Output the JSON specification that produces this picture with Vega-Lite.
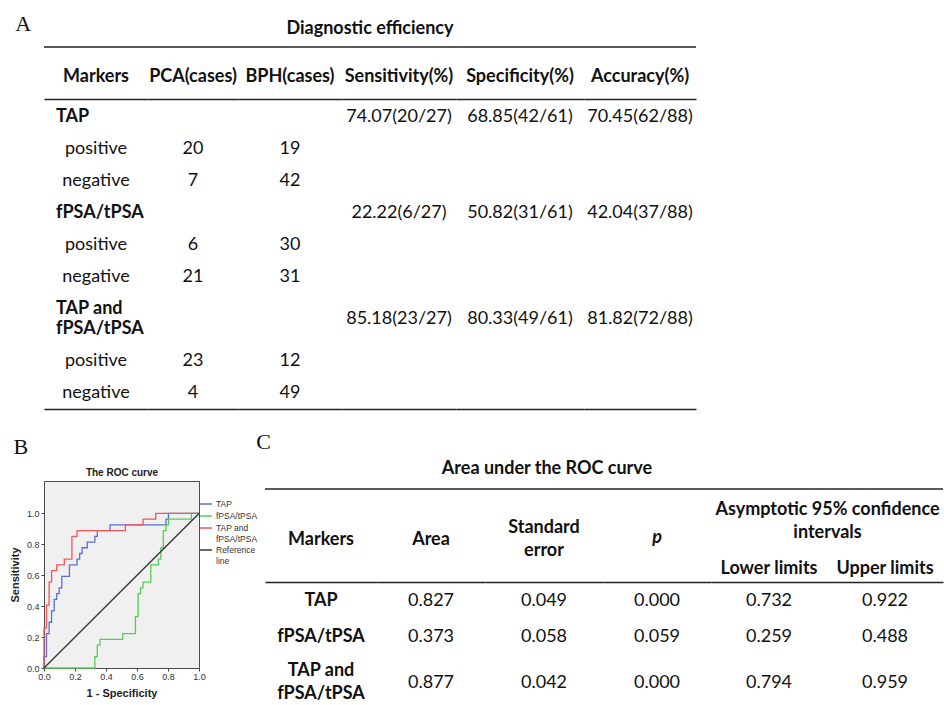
{
  "$schema": "https://vega.github.io/schema/vega-lite/v6.json",
  "padding": {"left": 8, "top": 13, "right": 0, "bottom": 0},
  "spacing": 22,
  "resolve": {"scale": {"color": "independent"}, "legend": {"color": "independent"}},
  "config": {
    "view": {"stroke": null},
    "text": {"font": "Lato", "fontSize": 18, "color": "#111"},
    "title": {"font": "Lato", "fontWeight": "bold", "fontSize": 18, "color": "#111"},
    "axis": {"domainColor": "#222"},
    "axisTop": {"ticks": false, "tickSize": 0, "grid": false, "domainColor": "#222", "domainWidth": 1.5, "labelFont": "Lato", "labelFontWeight": "bold", "labelFontSize": 18, "labelColor": "#111", "labelPadding": 14, "labelAngle": 0, "labelOverlap": false, "labelBound": false, "labelLimit": 400}
  },
  "datasets": {
    "tableA": [
      {"row": 1, "marker": "TAP", "result": "", "col": "Markers", "value": "TAP"},
      {"row": 1, "marker": "TAP", "result": "", "col": "Sensitivity(%)", "value": "74.07(20/27)"},
      {"row": 1, "marker": "TAP", "result": "", "col": "Specificity(%)", "value": "68.85(42/61)"},
      {"row": 1, "marker": "TAP", "result": "", "col": "Accuracy(%)", "value": "70.45(62/88)"},
      {"row": 2, "marker": "TAP", "result": "positive", "col": "Markers", "value": "positive"},
      {"row": 2, "marker": "TAP", "result": "positive", "col": "PCA(cases)", "value": "20"},
      {"row": 2, "marker": "TAP", "result": "positive", "col": "BPH(cases)", "value": "19"},
      {"row": 3, "marker": "TAP", "result": "negative", "col": "Markers", "value": "negative"},
      {"row": 3, "marker": "TAP", "result": "negative", "col": "PCA(cases)", "value": "7"},
      {"row": 3, "marker": "TAP", "result": "negative", "col": "BPH(cases)", "value": "42"},
      {"row": 4, "marker": "fPSA/tPSA", "result": "", "col": "Markers", "value": "fPSA/tPSA"},
      {"row": 4, "marker": "fPSA/tPSA", "result": "", "col": "Sensitivity(%)", "value": "22.22(6/27)"},
      {"row": 4, "marker": "fPSA/tPSA", "result": "", "col": "Specificity(%)", "value": "50.82(31/61)"},
      {"row": 4, "marker": "fPSA/tPSA", "result": "", "col": "Accuracy(%)", "value": "42.04(37/88)"},
      {"row": 5, "marker": "fPSA/tPSA", "result": "positive", "col": "Markers", "value": "positive"},
      {"row": 5, "marker": "fPSA/tPSA", "result": "positive", "col": "PCA(cases)", "value": "6"},
      {"row": 5, "marker": "fPSA/tPSA", "result": "positive", "col": "BPH(cases)", "value": "30"},
      {"row": 6, "marker": "fPSA/tPSA", "result": "negative", "col": "Markers", "value": "negative"},
      {"row": 6, "marker": "fPSA/tPSA", "result": "negative", "col": "PCA(cases)", "value": "21"},
      {"row": 6, "marker": "fPSA/tPSA", "result": "negative", "col": "BPH(cases)", "value": "31"},
      {"row": 7, "marker": "TAP and fPSA/tPSA", "result": "", "col": "Markers", "value": "TAP and\nfPSA/tPSA"},
      {"row": 7, "marker": "TAP and fPSA/tPSA", "result": "", "col": "Sensitivity(%)", "value": "85.18(23/27)"},
      {"row": 7, "marker": "TAP and fPSA/tPSA", "result": "", "col": "Specificity(%)", "value": "80.33(49/61)"},
      {"row": 7, "marker": "TAP and fPSA/tPSA", "result": "", "col": "Accuracy(%)", "value": "81.82(72/88)"},
      {"row": 8, "marker": "TAP and fPSA/tPSA", "result": "positive", "col": "Markers", "value": "positive"},
      {"row": 8, "marker": "TAP and fPSA/tPSA", "result": "positive", "col": "PCA(cases)", "value": "23"},
      {"row": 8, "marker": "TAP and fPSA/tPSA", "result": "positive", "col": "BPH(cases)", "value": "12"},
      {"row": 9, "marker": "TAP and fPSA/tPSA", "result": "negative", "col": "Markers", "value": "negative"},
      {"row": 9, "marker": "TAP and fPSA/tPSA", "result": "negative", "col": "PCA(cases)", "value": "4"},
      {"row": 9, "marker": "TAP and fPSA/tPSA", "result": "negative", "col": "BPH(cases)", "value": "49"}
    ],
    "tableC": [
      {"row": 1, "col": "Markers", "value": "TAP"},
      {"row": 1, "col": "Area", "value": "0.827"},
      {"row": 1, "col": "Standard error", "value": "0.049"},
      {"row": 1, "col": "p", "value": "0.000"},
      {"row": 1, "col": "Lower limits", "value": "0.732"},
      {"row": 1, "col": "Upper limits", "value": "0.922"},
      {"row": 2, "col": "Markers", "value": "fPSA/tPSA"},
      {"row": 2, "col": "Area", "value": "0.373"},
      {"row": 2, "col": "Standard error", "value": "0.058"},
      {"row": 2, "col": "p", "value": "0.059"},
      {"row": 2, "col": "Lower limits", "value": "0.259"},
      {"row": 2, "col": "Upper limits", "value": "0.488"},
      {"row": 3, "col": "Markers", "value": "TAP and\nfPSA/tPSA"},
      {"row": 3, "col": "Area", "value": "0.877"},
      {"row": 3, "col": "Standard error", "value": "0.042"},
      {"row": 3, "col": "p", "value": "0.000"},
      {"row": 3, "col": "Lower limits", "value": "0.794"},
      {"row": 3, "col": "Upper limits", "value": "0.959"}
    ],
    "tableTitles": [
      {"table": "Diagnostic efficiency"},
      {"table": "Area under the ROC curve"}
    ],
    "roc": [
      {"marker": "TAP", "ord": 1, "fpr": 0, "sens": 0},
      {"marker": "TAP", "ord": 2, "fpr": 0, "sens": 0.074},
      {"marker": "TAP", "ord": 3, "fpr": 0.016, "sens": 0.074},
      {"marker": "TAP", "ord": 4, "fpr": 0.016, "sens": 0.222},
      {"marker": "TAP", "ord": 5, "fpr": 0.033, "sens": 0.222},
      {"marker": "TAP", "ord": 6, "fpr": 0.033, "sens": 0.296},
      {"marker": "TAP", "ord": 7, "fpr": 0.049, "sens": 0.296},
      {"marker": "TAP", "ord": 8, "fpr": 0.049, "sens": 0.37},
      {"marker": "TAP", "ord": 9, "fpr": 0.066, "sens": 0.37},
      {"marker": "TAP", "ord": 10, "fpr": 0.066, "sens": 0.444},
      {"marker": "TAP", "ord": 11, "fpr": 0.082, "sens": 0.444},
      {"marker": "TAP", "ord": 12, "fpr": 0.082, "sens": 0.481},
      {"marker": "TAP", "ord": 13, "fpr": 0.098, "sens": 0.481},
      {"marker": "TAP", "ord": 14, "fpr": 0.098, "sens": 0.519},
      {"marker": "TAP", "ord": 15, "fpr": 0.115, "sens": 0.519},
      {"marker": "TAP", "ord": 16, "fpr": 0.115, "sens": 0.593},
      {"marker": "TAP", "ord": 17, "fpr": 0.164, "sens": 0.593},
      {"marker": "TAP", "ord": 18, "fpr": 0.164, "sens": 0.667},
      {"marker": "TAP", "ord": 19, "fpr": 0.213, "sens": 0.667},
      {"marker": "TAP", "ord": 20, "fpr": 0.213, "sens": 0.704},
      {"marker": "TAP", "ord": 21, "fpr": 0.23, "sens": 0.704},
      {"marker": "TAP", "ord": 22, "fpr": 0.23, "sens": 0.741},
      {"marker": "TAP", "ord": 23, "fpr": 0.246, "sens": 0.741},
      {"marker": "TAP", "ord": 24, "fpr": 0.246, "sens": 0.778},
      {"marker": "TAP", "ord": 25, "fpr": 0.279, "sens": 0.778},
      {"marker": "TAP", "ord": 26, "fpr": 0.279, "sens": 0.815},
      {"marker": "TAP", "ord": 27, "fpr": 0.328, "sens": 0.815},
      {"marker": "TAP", "ord": 28, "fpr": 0.328, "sens": 0.852},
      {"marker": "TAP", "ord": 29, "fpr": 0.344, "sens": 0.852},
      {"marker": "TAP", "ord": 30, "fpr": 0.344, "sens": 0.889},
      {"marker": "TAP", "ord": 31, "fpr": 0.426, "sens": 0.889},
      {"marker": "TAP", "ord": 32, "fpr": 0.426, "sens": 0.926},
      {"marker": "TAP", "ord": 33, "fpr": 0.787, "sens": 0.926},
      {"marker": "TAP", "ord": 34, "fpr": 0.787, "sens": 0.963},
      {"marker": "TAP", "ord": 35, "fpr": 0.803, "sens": 0.963},
      {"marker": "TAP", "ord": 36, "fpr": 0.803, "sens": 1},
      {"marker": "TAP", "ord": 37, "fpr": 1, "sens": 1},
      {"marker": "fPSA/tPSA", "ord": 1, "fpr": 0, "sens": 0},
      {"marker": "fPSA/tPSA", "ord": 2, "fpr": 0.328, "sens": 0},
      {"marker": "fPSA/tPSA", "ord": 3, "fpr": 0.328, "sens": 0.074},
      {"marker": "fPSA/tPSA", "ord": 4, "fpr": 0.344, "sens": 0.074},
      {"marker": "fPSA/tPSA", "ord": 5, "fpr": 0.344, "sens": 0.148},
      {"marker": "fPSA/tPSA", "ord": 6, "fpr": 0.361, "sens": 0.148},
      {"marker": "fPSA/tPSA", "ord": 7, "fpr": 0.361, "sens": 0.185},
      {"marker": "fPSA/tPSA", "ord": 8, "fpr": 0.508, "sens": 0.185},
      {"marker": "fPSA/tPSA", "ord": 9, "fpr": 0.508, "sens": 0.222},
      {"marker": "fPSA/tPSA", "ord": 10, "fpr": 0.59, "sens": 0.222},
      {"marker": "fPSA/tPSA", "ord": 11, "fpr": 0.59, "sens": 0.333},
      {"marker": "fPSA/tPSA", "ord": 12, "fpr": 0.607, "sens": 0.333},
      {"marker": "fPSA/tPSA", "ord": 13, "fpr": 0.607, "sens": 0.481},
      {"marker": "fPSA/tPSA", "ord": 14, "fpr": 0.623, "sens": 0.481},
      {"marker": "fPSA/tPSA", "ord": 15, "fpr": 0.623, "sens": 0.519},
      {"marker": "fPSA/tPSA", "ord": 16, "fpr": 0.639, "sens": 0.519},
      {"marker": "fPSA/tPSA", "ord": 17, "fpr": 0.639, "sens": 0.556},
      {"marker": "fPSA/tPSA", "ord": 18, "fpr": 0.689, "sens": 0.556},
      {"marker": "fPSA/tPSA", "ord": 19, "fpr": 0.689, "sens": 0.667},
      {"marker": "fPSA/tPSA", "ord": 20, "fpr": 0.738, "sens": 0.667},
      {"marker": "fPSA/tPSA", "ord": 21, "fpr": 0.738, "sens": 0.704},
      {"marker": "fPSA/tPSA", "ord": 22, "fpr": 0.754, "sens": 0.704},
      {"marker": "fPSA/tPSA", "ord": 23, "fpr": 0.754, "sens": 0.778},
      {"marker": "fPSA/tPSA", "ord": 24, "fpr": 0.77, "sens": 0.778},
      {"marker": "fPSA/tPSA", "ord": 25, "fpr": 0.77, "sens": 0.889},
      {"marker": "fPSA/tPSA", "ord": 26, "fpr": 0.787, "sens": 0.889},
      {"marker": "fPSA/tPSA", "ord": 27, "fpr": 0.787, "sens": 0.926},
      {"marker": "fPSA/tPSA", "ord": 28, "fpr": 0.803, "sens": 0.926},
      {"marker": "fPSA/tPSA", "ord": 29, "fpr": 0.803, "sens": 0.963},
      {"marker": "fPSA/tPSA", "ord": 30, "fpr": 0.951, "sens": 0.963},
      {"marker": "fPSA/tPSA", "ord": 31, "fpr": 0.951, "sens": 1},
      {"marker": "fPSA/tPSA", "ord": 32, "fpr": 1, "sens": 1},
      {"marker": "TAP and fPSA/tPSA", "ord": 1, "fpr": 0, "sens": 0},
      {"marker": "TAP and fPSA/tPSA", "ord": 2, "fpr": 0, "sens": 0.259},
      {"marker": "TAP and fPSA/tPSA", "ord": 3, "fpr": 0.016, "sens": 0.259},
      {"marker": "TAP and fPSA/tPSA", "ord": 4, "fpr": 0.016, "sens": 0.407},
      {"marker": "TAP and fPSA/tPSA", "ord": 5, "fpr": 0.033, "sens": 0.407},
      {"marker": "TAP and fPSA/tPSA", "ord": 6, "fpr": 0.033, "sens": 0.556},
      {"marker": "TAP and fPSA/tPSA", "ord": 7, "fpr": 0.049, "sens": 0.556},
      {"marker": "TAP and fPSA/tPSA", "ord": 8, "fpr": 0.049, "sens": 0.63},
      {"marker": "TAP and fPSA/tPSA", "ord": 9, "fpr": 0.082, "sens": 0.63},
      {"marker": "TAP and fPSA/tPSA", "ord": 10, "fpr": 0.082, "sens": 0.667},
      {"marker": "TAP and fPSA/tPSA", "ord": 11, "fpr": 0.131, "sens": 0.667},
      {"marker": "TAP and fPSA/tPSA", "ord": 12, "fpr": 0.131, "sens": 0.704},
      {"marker": "TAP and fPSA/tPSA", "ord": 13, "fpr": 0.18, "sens": 0.704},
      {"marker": "TAP and fPSA/tPSA", "ord": 14, "fpr": 0.18, "sens": 0.852},
      {"marker": "TAP and fPSA/tPSA", "ord": 15, "fpr": 0.213, "sens": 0.852},
      {"marker": "TAP and fPSA/tPSA", "ord": 16, "fpr": 0.213, "sens": 0.889},
      {"marker": "TAP and fPSA/tPSA", "ord": 17, "fpr": 0.525, "sens": 0.889},
      {"marker": "TAP and fPSA/tPSA", "ord": 18, "fpr": 0.525, "sens": 0.926},
      {"marker": "TAP and fPSA/tPSA", "ord": 19, "fpr": 0.639, "sens": 0.926},
      {"marker": "TAP and fPSA/tPSA", "ord": 20, "fpr": 0.639, "sens": 0.963},
      {"marker": "TAP and fPSA/tPSA", "ord": 21, "fpr": 0.721, "sens": 0.963},
      {"marker": "TAP and fPSA/tPSA", "ord": 22, "fpr": 0.721, "sens": 1},
      {"marker": "TAP and fPSA/tPSA", "ord": 23, "fpr": 1, "sens": 1},
      {"marker": "Reference line", "ord": 1, "fpr": 0, "sens": 0},
      {"marker": "Reference line", "ord": 2, "fpr": 1, "sens": 1}
    ]
  },
  "vconcat": [
    {
      "title": {"text": "A", "orient": "left", "anchor": "end", "angle": 0, "align": "left", "baseline": "top", "font": "Liberation Serif", "fontSize": 22, "fontWeight": "normal", "color": "#111", "offset": 12, "dy": -6},
      "bounds": "flush",
      "spacing": 44,
      "vconcat": [
        {
          "width": 652, "height": 16,
          "title": {"text": "Diagnostic efficiency", "offset": 1},
          "data": {"name": "tableTitles"},
          "transform": [{"filter": "datum.table == 'Diagnostic efficiency'"}],
          "mark": {"type": "rule", "color": "#222", "strokeWidth": 1.5},
          "encoding": {"y": {"field": "table", "type": "nominal", "axis": null}}
        },
        {
          "bounds": "flush",
          "spacing": 0,
          "hconcat": [
            {
              "width": 104, "height": 310,
              "data": {"name": "tableA"},
              "transform": [{"filter": "datum.col == 'Markers'"}],
              "encoding": {
                "y": {"field": "row", "type": "ordinal", "scale": {"type": "point", "domain": [1,2,3,4,5,6,7,8,9], "padding": 0.84375, "align": 0.3333}, "axis": null},
                "text": {"field": "value", "type": "nominal"}
              },
              "layer": [
                {"transform": [{"filter": "datum.row <= 6 && datum.result != ''"}],
                 "mark": {"type": "text"},
                 "encoding": {"x": {"field": "col", "type": "nominal", "scale": {"type": "band", "domain": ["Markers"]}, "axis": {"orient": "top", "title": null}}}},
                {"transform": [{"filter": "datum.row <= 6 && datum.result == ''"}],
                 "mark": {"type": "text", "fontWeight": "bold", "align": "left", "dx": 12},
                 "encoding": {"x": {"field": "col", "type": "nominal", "bandPosition": 0, "scale": {"type": "band", "domain": ["Markers"]}, "axis": null}}},
                {"transform": [{"filter": "datum.row == 7"}],
                 "mark": {"type": "text", "fontWeight": "bold", "align": "left", "dx": 12, "lineBreak": "\n", "lineHeight": 20},
                 "encoding": {"x": {"field": "col", "type": "nominal", "bandPosition": 0, "scale": {"type": "band", "domain": ["Markers"]}, "axis": {"orient": "bottom", "title": null, "labels": false, "ticks": false, "domainColor": "#222", "domainWidth": 1.5}}}},
                {"transform": [{"filter": "datum.row >= 8"}],
                 "mark": {"type": "text", "dy": 20},
                 "encoding": {"x": {"field": "col", "type": "nominal", "scale": {"type": "band", "domain": ["Markers"]}, "axis": null}}}
              ],
              "resolve": {"axis": {"x": "independent"}}
            },
            {
              "width": 90, "height": 310,
              "data": {"name": "tableA"},
              "transform": [{"filter": "datum.col == 'PCA(cases)'"}],
              "encoding": {
                "y": {"field": "row", "type": "ordinal", "scale": {"type": "point", "domain": [1,2,3,4,5,6,7,8,9], "padding": 0.84375, "align": 0.3333}, "axis": null},
                "text": {"field": "value", "type": "nominal"}
              },
              "layer": [
                {"transform": [{"filter": "datum.row <= 6"}],
                 "mark": {"type": "text"},
                 "encoding": {"x": {"field": "col", "type": "nominal", "scale": {"type": "band", "domain": ["PCA(cases)"]}, "axis": {"orient": "top", "title": null}}}},
                {"transform": [{"filter": "datum.row >= 8"}],
                 "mark": {"type": "text", "dy": 20},
                 "encoding": {"x": {"field": "col", "type": "nominal", "scale": {"type": "band", "domain": ["PCA(cases)"]}, "axis": {"orient": "bottom", "title": null, "labels": false, "ticks": false, "domainColor": "#222", "domainWidth": 1.5}}}}
              ],
              "resolve": {"axis": {"x": "independent"}}
            },
            {
              "width": 104, "height": 310,
              "data": {"name": "tableA"},
              "transform": [{"filter": "datum.col == 'BPH(cases)'"}],
              "encoding": {
                "y": {"field": "row", "type": "ordinal", "scale": {"type": "point", "domain": [1,2,3,4,5,6,7,8,9], "padding": 0.84375, "align": 0.3333}, "axis": null},
                "text": {"field": "value", "type": "nominal"}
              },
              "layer": [
                {"transform": [{"filter": "datum.row <= 6"}],
                 "mark": {"type": "text"},
                 "encoding": {"x": {"field": "col", "type": "nominal", "scale": {"type": "band", "domain": ["BPH(cases)"]}, "axis": {"orient": "top", "title": null}}}},
                {"transform": [{"filter": "datum.row >= 8"}],
                 "mark": {"type": "text", "dy": 20},
                 "encoding": {"x": {"field": "col", "type": "nominal", "scale": {"type": "band", "domain": ["BPH(cases)"]}, "axis": {"orient": "bottom", "title": null, "labels": false, "ticks": false, "domainColor": "#222", "domainWidth": 1.5}}}}
              ],
              "resolve": {"axis": {"x": "independent"}}
            },
            {
              "width": 114, "height": 310,
              "data": {"name": "tableA"},
              "transform": [{"filter": "datum.col == 'Sensitivity(%)'"}],
              "encoding": {
                "y": {"field": "row", "type": "ordinal", "scale": {"type": "point", "domain": [1,2,3,4,5,6,7,8,9], "padding": 0.84375, "align": 0.3333}, "axis": null},
                "text": {"field": "value", "type": "nominal"}
              },
              "layer": [
                {"transform": [{"filter": "datum.row <= 6"}],
                 "mark": {"type": "text"},
                 "encoding": {"x": {"field": "col", "type": "nominal", "scale": {"type": "band", "domain": ["Sensitivity(%)"]}, "axis": {"orient": "top", "title": null}}}},
                {"transform": [{"filter": "datum.row == 7"}],
                 "mark": {"type": "text", "dy": 10},
                 "encoding": {"x": {"field": "col", "type": "nominal", "scale": {"type": "band", "domain": ["Sensitivity(%)"]}, "axis": {"orient": "bottom", "title": null, "labels": false, "ticks": false, "domainColor": "#222", "domainWidth": 1.5}}}}
              ],
              "resolve": {"axis": {"x": "independent"}}
            },
            {
              "width": 128, "height": 310,
              "data": {"name": "tableA"},
              "transform": [{"filter": "datum.col == 'Specificity(%)'"}],
              "encoding": {
                "y": {"field": "row", "type": "ordinal", "scale": {"type": "point", "domain": [1,2,3,4,5,6,7,8,9], "padding": 0.84375, "align": 0.3333}, "axis": null},
                "text": {"field": "value", "type": "nominal"}
              },
              "layer": [
                {"transform": [{"filter": "datum.row <= 6"}],
                 "mark": {"type": "text"},
                 "encoding": {"x": {"field": "col", "type": "nominal", "scale": {"type": "band", "domain": ["Specificity(%)"]}, "axis": {"orient": "top", "title": null}}}},
                {"transform": [{"filter": "datum.row == 7"}],
                 "mark": {"type": "text", "dy": 10},
                 "encoding": {"x": {"field": "col", "type": "nominal", "scale": {"type": "band", "domain": ["Specificity(%)"]}, "axis": {"orient": "bottom", "title": null, "labels": false, "ticks": false, "domainColor": "#222", "domainWidth": 1.5}}}}
              ],
              "resolve": {"axis": {"x": "independent"}}
            },
            {
              "width": 112, "height": 310,
              "data": {"name": "tableA"},
              "transform": [{"filter": "datum.col == 'Accuracy(%)'"}],
              "encoding": {
                "y": {"field": "row", "type": "ordinal", "scale": {"type": "point", "domain": [1,2,3,4,5,6,7,8,9], "padding": 0.84375, "align": 0.3333}, "axis": null},
                "text": {"field": "value", "type": "nominal"}
              },
              "layer": [
                {"transform": [{"filter": "datum.row <= 6"}],
                 "mark": {"type": "text"},
                 "encoding": {"x": {"field": "col", "type": "nominal", "scale": {"type": "band", "domain": ["Accuracy(%)"]}, "axis": {"orient": "top", "title": null}}}},
                {"transform": [{"filter": "datum.row == 7"}],
                 "mark": {"type": "text", "dy": 10},
                 "encoding": {"x": {"field": "col", "type": "nominal", "scale": {"type": "band", "domain": ["Accuracy(%)"]}, "axis": {"orient": "bottom", "title": null, "labels": false, "ticks": false, "domainColor": "#222", "domainWidth": 1.5}}}}
              ],
              "resolve": {"axis": {"x": "independent"}}
            }
          ]
        }
      ]
    },
    {
      "spacing": -3,
      "resolve": {"scale": {"color": "independent"}, "legend": {"color": "independent"}},
      "hconcat": [
        {
          "width": 155, "height": 187,
          "title": {"text": "B", "anchor": "start", "baseline": "bottom", "font": "Liberation Serif", "fontSize": 22, "fontWeight": "normal", "color": "#111", "offset": -14, "dx": 4},
          "view": {"fill": "#f0f0f0", "stroke": "#4d4d4d", "strokeWidth": 1},
          "data": {"name": "roc"},
          "encoding": {
            "y": {"field": "sens", "type": "quantitative", "scale": {"domain": [0, 1.21], "nice": false},
                  "axis": {"title": "Sensitivity", "values": [0, 0.2, 0.4, 0.6, 0.8, 1], "format": ".1f", "grid": false, "domain": false, "tickSize": 3, "tickColor": "#444", "labelFont": "Liberation Sans", "labelFontSize": 9, "labelColor": "#333", "labelPadding": 2, "labelFlush": false, "titleFont": "Liberation Sans", "titleFontSize": 11, "titleFontWeight": "bold", "titleColor": "#222", "titlePadding": 6}},
            "color": {"field": "marker", "type": "nominal",
                      "scale": {"domain": ["TAP", "fPSA/tPSA", "TAP and fPSA/tPSA", "Reference line"], "range": ["#5b70d0", "#55cc55", "#f2555a", "#333333"]},
                      "legend": {"title": " ", "titleFontSize": 10, "titlePadding": 6, "symbolType": "stroke", "symbolStrokeWidth": 1.5, "symbolSize": 140, "labelFont": "Liberation Sans", "labelFontSize": 8.5, "labelColor": "#333", "labelLineHeight": 8, "labelOffset": 3, "rowPadding": 0, "offset": -3, "padding": 0,
                                 "labelExpr": "datum.label == 'TAP and fPSA/tPSA' ? ['TAP and', 'fPSA/tPSA'] : datum.label == 'Reference line' ? ['Reference', 'line'] : datum.label"}},
            "order": {"field": "ord", "type": "quantitative"}
          },
          "layer": [
            {"transform": [{"filter": "datum.marker != 'Reference line'"}],
             "mark": {"type": "line", "strokeWidth": 1.3},
             "encoding": {"x": {"field": "fpr", "type": "quantitative", "scale": {"domain": [0, 1], "nice": false},
                  "axis": {"orient": "bottom", "title": "1 - Specificity", "values": [0, 0.2, 0.4, 0.6, 0.8, 1], "format": ".1f", "grid": false, "domain": false, "tickSize": 3, "tickColor": "#444", "labelFont": "Liberation Sans", "labelFontSize": 9, "labelColor": "#333", "labelPadding": 1, "labelFlush": false, "titleFont": "Liberation Sans", "titleFontSize": 11, "titleFontWeight": "bold", "titleColor": "#222", "titlePadding": 6}}}},
            {"transform": [{"filter": "datum.marker == 'Reference line'"}],
             "mark": {"type": "line", "strokeWidth": 1.3},
             "encoding": {"x": {"field": "fpr", "type": "quantitative", "scale": {"domain": [0, 1], "nice": false},
                  "axis": {"orient": "top", "title": "The ROC curve", "labels": false, "ticks": false, "domain": false, "grid": false, "labelPadding": 0, "titleFont": "Liberation Sans", "titleFontSize": 10, "titleFontWeight": "bold", "titleColor": "#222", "titlePadding": 4}}}}
          ],
          "resolve": {"axis": {"x": "independent"}}
        },
        {
          "title": {"text": "C", "anchor": "start", "baseline": "bottom", "font": "Liberation Serif", "fontSize": 22, "fontWeight": "normal", "color": "#111", "offset": -16, "dx": -8},
          "bounds": "flush",
          "spacing": 85,
          "vconcat": [
            {
              "width": 678, "height": 16,
              "title": {"text": "Area under the ROC curve", "offset": 3, "dx": -57},
              "data": {"name": "tableTitles"},
              "transform": [{"filter": "datum.table == 'Area under the ROC curve'"}],
              "mark": {"type": "rule", "color": "#222", "strokeWidth": 1.5},
              "encoding": {"y": {"field": "table", "type": "nominal", "axis": null}}
            },
            {
              "bounds": "flush",
              "spacing": 0,
              "hconcat": [
                {
                  "width": 112, "height": 118,
                  "data": {"name": "tableC"},
                  "transform": [{"filter": "datum.col == 'Markers'"}],
                  "encoding": {
                    "y": {"field": "row", "type": "ordinal", "scale": {"type": "point", "domain": [1, 2, 3], "padding": 0.639, "align": 0.413}, "axis": null},
                    "text": {"field": "value", "type": "nominal"}
                  },
                  "layer": [
                    {"transform": [{"filter": "datum.row <= 2"}],
                     "mark": {"type": "text", "fontWeight": "bold"},
                     "encoding": {"x": {"field": "col", "type": "nominal", "scale": {"type": "band", "domain": ["Markers"]}, "axis": {"orient": "top", "title": null, "labelPadding": 34}}}},
                    {"transform": [{"filter": "datum.row == 3"}],
                     "mark": {"type": "text", "fontWeight": "bold", "dy": -2, "lineBreak": "\n", "lineHeight": 23},
                     "encoding": {"x": {"field": "col", "type": "nominal", "scale": {"type": "band", "domain": ["Markers"]}, "axis": null}}}
                  ],
                  "resolve": {"axis": {"x": "independent"}}
                },
                {
                  "width": 108, "height": 118,
                  "data": {"name": "tableC"},
                  "transform": [{"filter": "datum.col == 'Area'"}],
                  "encoding": {
                    "y": {"field": "row", "type": "ordinal", "scale": {"type": "point", "domain": [1, 2, 3], "padding": 0.639, "align": 0.413}, "axis": null},
                    "text": {"field": "value", "type": "nominal"}
                  },
                  "layer": [
                    {"transform": [{"filter": "datum.row <= 2"}],
                     "mark": {"type": "text"},
                     "encoding": {"x": {"field": "col", "type": "nominal", "scale": {"type": "band", "domain": ["Area"]}, "axis": {"orient": "top", "title": null, "labelPadding": 34}}}},
                    {"transform": [{"filter": "datum.row == 3"}],
                     "mark": {"type": "text", "dy": 10},
                     "encoding": {"x": {"field": "col", "type": "nominal", "scale": {"type": "band", "domain": ["Area"]}, "axis": null}}}
                  ],
                  "resolve": {"axis": {"x": "independent"}}
                },
                {
                  "width": 118, "height": 118,
                  "data": {"name": "tableC"},
                  "transform": [{"filter": "datum.col == 'Standard error'"}],
                  "encoding": {
                    "y": {"field": "row", "type": "ordinal", "scale": {"type": "point", "domain": [1, 2, 3], "padding": 0.639, "align": 0.413}, "axis": null},
                    "text": {"field": "value", "type": "nominal"}
                  },
                  "layer": [
                    {"transform": [{"filter": "datum.row <= 2"}],
                     "mark": {"type": "text"},
                     "encoding": {"x": {"field": "col", "type": "nominal", "scale": {"type": "band", "domain": ["Standard error"]}, "axis": {"orient": "top", "title": null, "labelPadding": 46, "labelExpr": "split(datum.label, ' ')", "labelLineHeight": 23}}}},
                    {"transform": [{"filter": "datum.row == 3"}],
                     "mark": {"type": "text", "dy": 10},
                     "encoding": {"x": {"field": "col", "type": "nominal", "scale": {"type": "band", "domain": ["Standard error"]}, "axis": null}}}
                  ],
                  "resolve": {"axis": {"x": "independent"}}
                },
                {
                  "width": 108, "height": 118,
                  "data": {"name": "tableC"},
                  "transform": [{"filter": "datum.col == 'p'"}],
                  "encoding": {
                    "y": {"field": "row", "type": "ordinal", "scale": {"type": "point", "domain": [1, 2, 3], "padding": 0.639, "align": 0.413}, "axis": null},
                    "text": {"field": "value", "type": "nominal"}
                  },
                  "layer": [
                    {"transform": [{"filter": "datum.row <= 2"}],
                     "mark": {"type": "text"},
                     "encoding": {"x": {"field": "col", "type": "nominal", "scale": {"type": "band", "domain": ["p"]}, "axis": {"orient": "top", "title": null, "labelPadding": 36, "labelFontStyle": "italic"}}}},
                    {"transform": [{"filter": "datum.row == 3"}],
                     "mark": {"type": "text", "dy": 10},
                     "encoding": {"x": {"field": "col", "type": "nominal", "scale": {"type": "band", "domain": ["p"]}, "axis": null}}}
                  ],
                  "resolve": {"axis": {"x": "independent"}}
                },
                {
                  "width": 232, "height": 118,
                  "data": {"name": "tableC"},
                  "transform": [{"filter": "datum.col == 'Lower limits' || datum.col == 'Upper limits'"}],
                  "encoding": {
                    "y": {"field": "row", "type": "ordinal", "scale": {"type": "point", "domain": [1, 2, 3], "padding": 0.639, "align": 0.413}, "axis": null},
                    "text": {"field": "value", "type": "nominal"}
                  },
                  "layer": [
                    {"transform": [{"filter": "datum.row <= 2"}],
                     "mark": {"type": "text"},
                     "encoding": {"x": {"field": "col", "type": "nominal", "scale": {"type": "band", "domain": ["Lower limits", "Upper limits"]}, "axis": {"orient": "top", "title": ["Asymptotic 95% confidence", "intervals"], "labelPadding": 5, "titleFont": "Lato", "titleFontWeight": "bold", "titleFontSize": 18, "titleColor": "#111", "titleLineHeight": 23, "titlePadding": 18}}}},
                    {"transform": [{"filter": "datum.row == 3"}],
                     "mark": {"type": "text", "dy": 10},
                     "encoding": {"x": {"field": "col", "type": "nominal", "scale": {"type": "band", "domain": ["Lower limits", "Upper limits"]}, "axis": null}}}
                  ],
                  "resolve": {"axis": {"x": "independent"}}
                }
              ]
            }
          ]
        }
      ]
    }
  ]
}
